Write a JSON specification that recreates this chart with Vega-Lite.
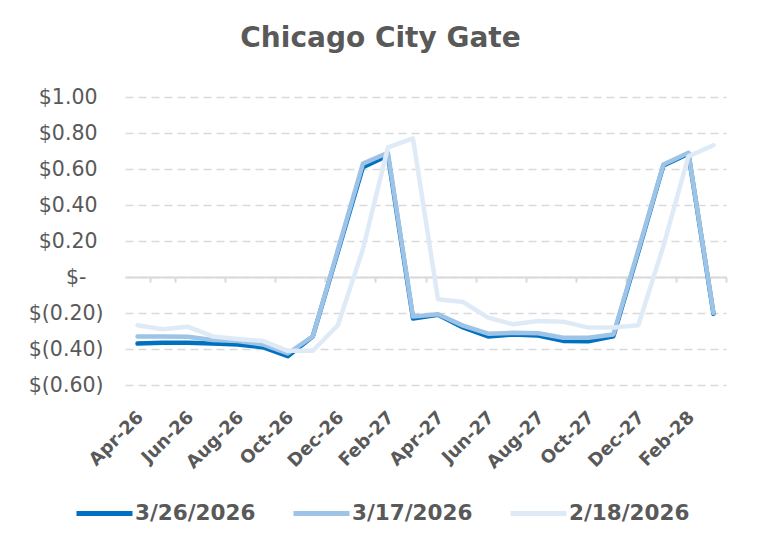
{
  "$schema": "https://vega.github.io/schema/vega-lite/v6.json",
  "width": 601,
  "height": 288,
  "autosize": {"type": "none"},
  "padding": {"left": 125, "top": 97, "right": 31, "bottom": 160},
  "background": "white",
  "title": {
    "text": "Chicago City Gate",
    "font": "DejaVu Sans",
    "fontSize": 28,
    "fontWeight": "bold",
    "color": "#595959",
    "anchor": "middle",
    "frame": "group",
    "dx": -45,
    "offset": 34
  },
  "data": {
    "values": [
      {"month": "Apr-26", "series": "3/26/2026", "value": -0.37},
      {"month": "May-26", "series": "3/26/2026", "value": -0.365},
      {"month": "Jun-26", "series": "3/26/2026", "value": -0.365},
      {"month": "Jul-26", "series": "3/26/2026", "value": -0.37},
      {"month": "Aug-26", "series": "3/26/2026", "value": -0.375},
      {"month": "Sep-26", "series": "3/26/2026", "value": -0.39},
      {"month": "Oct-26", "series": "3/26/2026", "value": -0.44},
      {"month": "Nov-26", "series": "3/26/2026", "value": -0.33},
      {"month": "Dec-26", "series": "3/26/2026", "value": 0.14},
      {"month": "Jan-27", "series": "3/26/2026", "value": 0.61},
      {"month": "Feb-27", "series": "3/26/2026", "value": 0.675},
      {"month": "Mar-27", "series": "3/26/2026", "value": -0.23},
      {"month": "Apr-27", "series": "3/26/2026", "value": -0.21},
      {"month": "May-27", "series": "3/26/2026", "value": -0.28},
      {"month": "Jun-27", "series": "3/26/2026", "value": -0.33},
      {"month": "Jul-27", "series": "3/26/2026", "value": -0.32},
      {"month": "Aug-27", "series": "3/26/2026", "value": -0.325},
      {"month": "Sep-27", "series": "3/26/2026", "value": -0.355},
      {"month": "Oct-27", "series": "3/26/2026", "value": -0.357},
      {"month": "Nov-27", "series": "3/26/2026", "value": -0.33},
      {"month": "Dec-27", "series": "3/26/2026", "value": 0.14},
      {"month": "Jan-28", "series": "3/26/2026", "value": 0.62},
      {"month": "Feb-28", "series": "3/26/2026", "value": 0.685},
      {"month": "Mar-28", "series": "3/26/2026", "value": -0.205},
      {"month": "Apr-26", "series": "3/17/2026", "value": -0.33},
      {"month": "May-26", "series": "3/17/2026", "value": -0.33},
      {"month": "Jun-26", "series": "3/17/2026", "value": -0.332},
      {"month": "Jul-26", "series": "3/17/2026", "value": -0.35},
      {"month": "Aug-26", "series": "3/17/2026", "value": -0.355},
      {"month": "Sep-26", "series": "3/17/2026", "value": -0.375},
      {"month": "Oct-26", "series": "3/17/2026", "value": -0.425},
      {"month": "Nov-26", "series": "3/17/2026", "value": -0.33},
      {"month": "Dec-26", "series": "3/17/2026", "value": 0.15},
      {"month": "Jan-27", "series": "3/17/2026", "value": 0.63},
      {"month": "Feb-27", "series": "3/17/2026", "value": 0.69},
      {"month": "Mar-27", "series": "3/17/2026", "value": -0.22},
      {"month": "Apr-27", "series": "3/17/2026", "value": -0.207},
      {"month": "May-27", "series": "3/17/2026", "value": -0.27},
      {"month": "Jun-27", "series": "3/17/2026", "value": -0.315},
      {"month": "Jul-27", "series": "3/17/2026", "value": -0.31},
      {"month": "Aug-27", "series": "3/17/2026", "value": -0.313},
      {"month": "Sep-27", "series": "3/17/2026", "value": -0.337},
      {"month": "Oct-27", "series": "3/17/2026", "value": -0.337},
      {"month": "Nov-27", "series": "3/17/2026", "value": -0.32},
      {"month": "Dec-27", "series": "3/17/2026", "value": 0.15},
      {"month": "Jan-28", "series": "3/17/2026", "value": 0.625},
      {"month": "Feb-28", "series": "3/17/2026", "value": 0.69},
      {"month": "Mar-28", "series": "3/17/2026", "value": -0.2},
      {"month": "Apr-26", "series": "2/18/2026", "value": -0.268},
      {"month": "May-26", "series": "2/18/2026", "value": -0.29},
      {"month": "Jun-26", "series": "2/18/2026", "value": -0.276},
      {"month": "Jul-26", "series": "2/18/2026", "value": -0.33},
      {"month": "Aug-26", "series": "2/18/2026", "value": -0.345},
      {"month": "Sep-26", "series": "2/18/2026", "value": -0.355},
      {"month": "Oct-26", "series": "2/18/2026", "value": -0.41},
      {"month": "Nov-26", "series": "2/18/2026", "value": -0.41},
      {"month": "Dec-26", "series": "2/18/2026", "value": -0.268},
      {"month": "Jan-27", "series": "2/18/2026", "value": 0.154},
      {"month": "Feb-27", "series": "2/18/2026", "value": 0.72},
      {"month": "Mar-27", "series": "2/18/2026", "value": 0.77},
      {"month": "Apr-27", "series": "2/18/2026", "value": -0.124},
      {"month": "May-27", "series": "2/18/2026", "value": -0.139},
      {"month": "Jun-27", "series": "2/18/2026", "value": -0.226},
      {"month": "Jul-27", "series": "2/18/2026", "value": -0.263},
      {"month": "Aug-27", "series": "2/18/2026", "value": -0.245},
      {"month": "Sep-27", "series": "2/18/2026", "value": -0.248},
      {"month": "Oct-27", "series": "2/18/2026", "value": -0.281},
      {"month": "Nov-27", "series": "2/18/2026", "value": -0.281},
      {"month": "Dec-27", "series": "2/18/2026", "value": -0.268},
      {"month": "Jan-28", "series": "2/18/2026", "value": 0.172},
      {"month": "Feb-28", "series": "2/18/2026", "value": 0.67},
      {"month": "Mar-28", "series": "2/18/2026", "value": 0.732}
    ]
  },
  "layer": [
    {
      "mark": {"type": "line", "strokeOpacity": 0},
      "encoding": {
        "x": {
          "field": "month",
          "type": "ordinal",
          "sort": null,
          "bandPosition": 0.5,
          "scale": {"type": "band", "paddingInner": 0, "paddingOuter": 0},
          "axis": {
            "orient": "bottom",
            "values": ["May-26", "Jul-26", "Sep-26", "Nov-26", "Jan-27", "Mar-27", "May-27", "Jul-27", "Sep-27", "Nov-27", "Jan-28", "Mar-28"],
            "tickBand": "extent",
            "offset": -108,
            "labels": false,
            "domain": true,
            "domainColor": "#d9d9d9",
            "domainWidth": 2,
            "ticks": true,
            "tickColor": "#d9d9d9",
            "tickWidth": 2,
            "tickSize": 5,
            "grid": false,
            "title": null
          }
        },
        "y": {
          "field": "value",
          "type": "quantitative",
          "scale": {"domain": [-0.6, 1.0], "nice": false, "zero": false},
          "axis": {
            "values": [-0.6, -0.4, -0.2, 0, 0.2, 0.4, 0.6, 0.8, 1.0],
            "labelExpr": "abs(datum.value) < 1e-9 ? '$-' : (datum.value > 0 ? '$' + format(datum.value, '.2f') : '$(' + format(-datum.value, '.2f') + ')')",
            "labelFont": "DejaVu Sans",
            "labelFontSize": 20.5,
            "labelColor": "#595959",
            "labelPadding": {"condition": [{"test": "abs(datum.value) < 1e-9", "value": 39}, {"test": "datum.value > 0", "value": 28}], "value": 22},
            "domain": false,
            "ticks": false,
            "tickSize": 0,
            "grid": true,
            "gridColor": "#d9d9d9",
            "gridDash": [8, 5],
            "gridWidth": 1.5,
            "title": null
          }
        },
        "detail": {"field": "series", "type": "nominal"}
      }
    },
    {
      "mark": {"type": "line", "strokeWidth": 4.5, "strokeCap": "round", "strokeJoin": "round"},
      "encoding": {
        "x": {
          "field": "month",
          "type": "ordinal",
          "sort": null,
          "bandPosition": 0.5,
          "scale": {"type": "band", "paddingInner": 0, "paddingOuter": 0},
          "axis": {
            "orient": "bottom",
            "values": ["Apr-26", "Jun-26", "Aug-26", "Oct-26", "Dec-26", "Feb-27", "Apr-27", "Jun-27", "Aug-27", "Oct-27", "Dec-27", "Feb-28"],
            "labelAngle": -45,
            "labelFont": "DejaVu Sans",
            "labelFontWeight": "bold",
            "labelFontSize": 18,
            "labelColor": "#595959",
            "labelPadding": 23,
            "labelOffset": -3,
            "domain": false,
            "ticks": false,
            "tickSize": 0,
            "grid": false,
            "title": null
          }
        },
        "y": {
          "field": "value",
          "type": "quantitative",
          "scale": {"domain": [-0.6, 1.0], "nice": false, "zero": false},
          "axis": {
            "values": [-0.6, -0.4, -0.2, 0, 0.2, 0.4, 0.6, 0.8, 1.0],
            "labelExpr": "abs(datum.value) < 1e-9 ? '$-' : (datum.value > 0 ? '$' + format(datum.value, '.2f') : '$(' + format(-datum.value, '.2f') + ')')",
            "labelFont": "DejaVu Sans",
            "labelFontSize": 20.5,
            "labelColor": "#595959",
            "labelPadding": {"condition": [{"test": "abs(datum.value) < 1e-9", "value": 39}, {"test": "datum.value > 0", "value": 28}], "value": 22},
            "domain": false,
            "ticks": false,
            "tickSize": 0,
            "grid": true,
            "gridColor": "#d9d9d9",
            "gridDash": [8, 5],
            "gridWidth": 1.5,
            "title": null
          }
        },
        "color": {
          "field": "series",
          "type": "nominal",
          "scale": {"domain": ["3/26/2026", "3/17/2026", "2/18/2026"], "range": ["#0070C0", "#9DC3E6", "#DEEBF7"]},
          "legend": {
            "orient": "none",
            "legendX": -51,
            "legendY": 386,
            "direction": "horizontal",
            "columns": 3,
            "title": null,
            "symbolType": "stroke",
            "symbolSize": 3136,
            "symbolStrokeWidth": 5,
            "labelFont": "DejaVu Sans",
            "labelFontWeight": "bold",
            "labelFontSize": 21.5,
            "labelColor": "#595959",
            "labelOffset": 0,
            "columnPadding": 27
          }
        }
      }
    }
  ],
  "resolve": {"axis": {"x": "independent"}},
  "config": {"view": {"stroke": null}}
}
